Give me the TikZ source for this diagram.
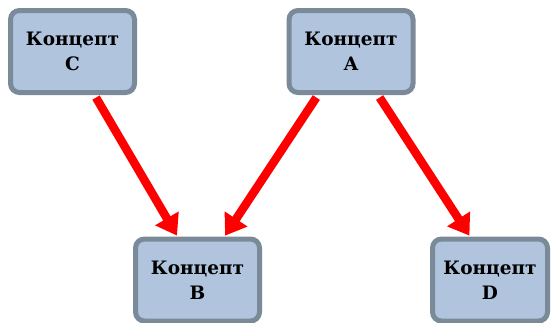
\documentclass[tikz,border=0pt]{standalone}
\usepackage{fontspec}
\setmainfont{DejaVu Serif}
\usetikzlibrary{arrows.meta}
\definecolor{boxfill}{RGB}{176,196,222}
\definecolor{boxline}{RGB}{122,138,153}
\tikzset{
  concept/.style={draw=boxline, fill=boxfill, line width=5pt, rounded corners=9pt,
    minimum width=124pt, minimum height=82pt, align=center, inner sep=0pt,
    font=\fontsize{18.5}{25}\selectfont\bfseries},
  link/.style={draw=red, line width=8.5pt, -{Triangle[width=26pt,length=20pt]},
    shorten <=3pt, shorten >=1pt}
}
\begin{document}
\begin{tikzpicture}[x=1pt,y=-1pt]
\useasboundingbox (0,0) rectangle (553,322);
\node[concept] (C) at (72.5,51.5) {Концепт\\C};
\node[concept] (A) at (351,51.5) {Концепт\\A};
\node[concept] (B) at (197.5,280) {Концепт\\B};
\node[concept, minimum width=115pt] (D) at (490,280) {Концепт\\D};
\draw[link] ([xshift=22pt]C.south) -- ([xshift=-20pt]B.north);
\draw[link] ([xshift=-33pt]A.south) -- ([xshift=27pt]B.north);
\draw[link] ([xshift=27pt]A.south) -- ([xshift=-20pt]D.north);
\end{tikzpicture}
\end{document}
